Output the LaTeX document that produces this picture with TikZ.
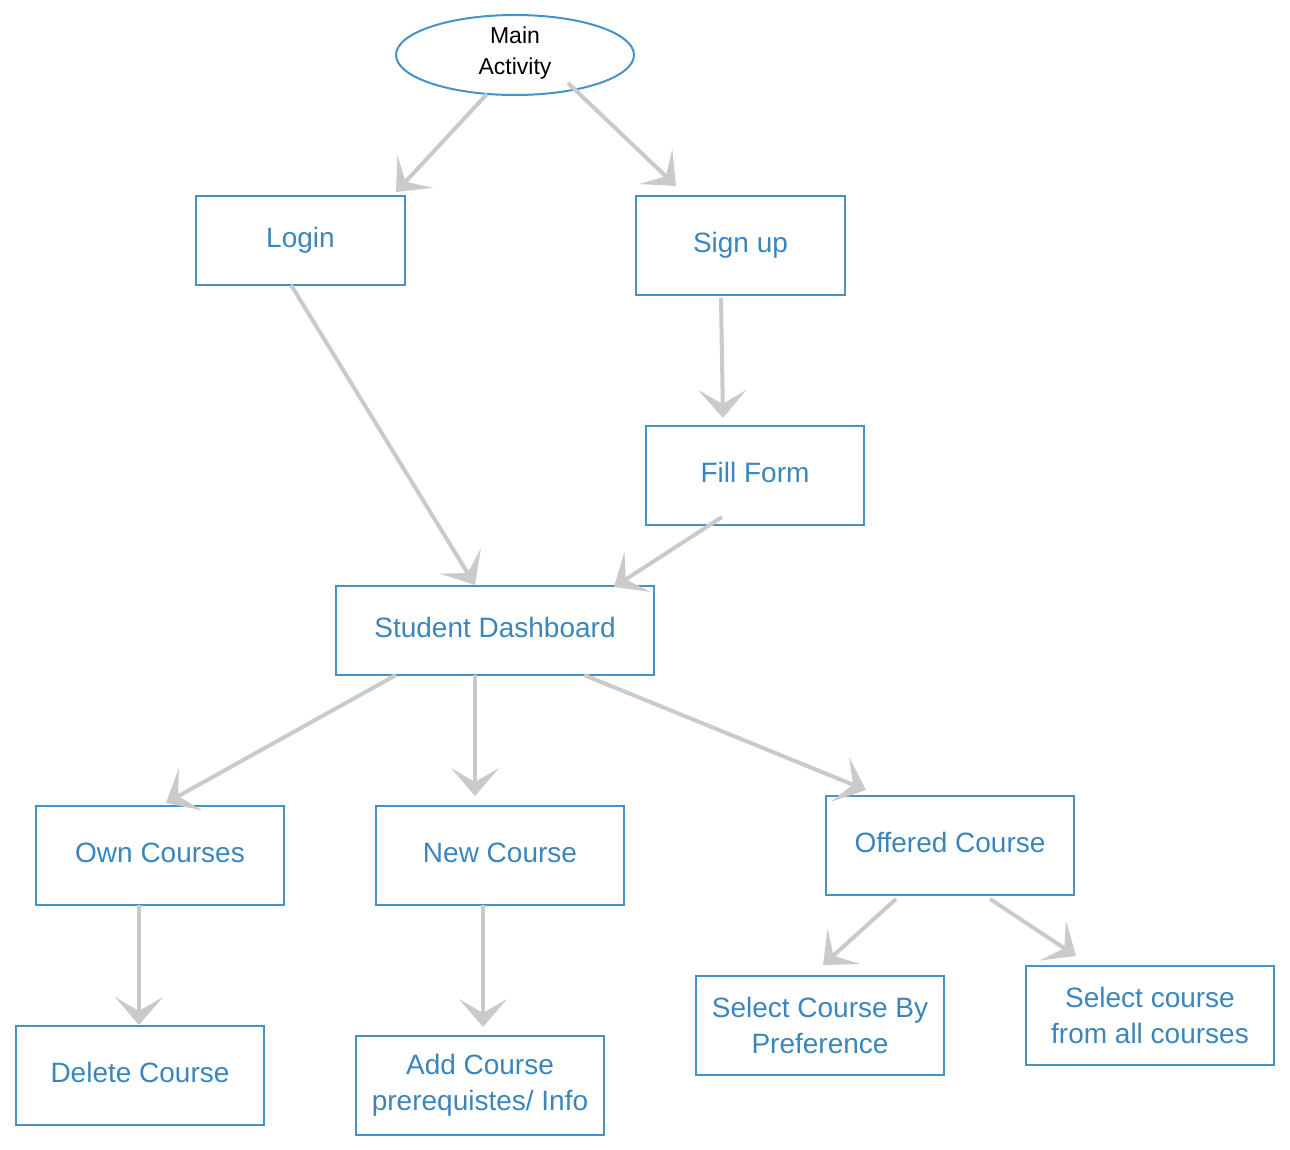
\documentclass[tikz,border=0pt]{standalone}
\usepackage{fontspec}
\setmainfont{Liberation Sans}
\usetikzlibrary{arrows.meta,calc,shapes.geometric}
\definecolor{boxblue}{HTML}{4492C6}
\definecolor{txtblue}{HTML}{3A86BC}
\definecolor{arrgrey}{HTML}{CACACA}
\begin{document}
\begin{tikzpicture}[x=1pt,y=-1pt,
  box/.style={draw=boxblue,line width=2pt,rectangle,inner sep=0pt,align=center,
    text=txtblue,font=\fontsize{28}{36}\selectfont},
  onebox/.style={box,text height=20pt,text depth=6pt},
  conn/.style={draw=arrgrey,line width=4pt,
    -{Stealth[length=28pt,width=48pt,inset=14pt]}}]
\useasboundingbox (0,0) rectangle (1290,1150);
\node[draw=boxblue,line width=2pt,ellipse,minimum width=238pt,minimum height=80pt,
  inner sep=0pt,
  label={[align=center,font=\fontsize{23}{31}\selectfont,yshift=2pt]center:{Main\\Activity}}]
  (main) at (515,55) {};
\node[onebox,minimum width=209pt,minimum height=89pt] (login) at (300.5,240.5) {Login};
\node[onebox,minimum width=209pt,minimum height=99pt] (signup) at (740.5,245.5) {Sign up};
\node[onebox,minimum width=218pt,minimum height=99pt] (fill) at (755,475.5) {Fill Form};
\node[onebox,minimum width=318pt,minimum height=89pt] (dash) at (495,630.5) {Student Dashboard};
\node[onebox,minimum width=248pt,minimum height=99pt] (own) at (160,855.5) {Own Courses};
\node[onebox,minimum width=248pt,minimum height=99pt] (new) at (500,855.5) {New Course};
\node[onebox,minimum width=248pt,minimum height=99pt] (offered) at (950,845.5) {Offered Course};
\node[box,minimum width=248pt,minimum height=99pt] (pref) at (820,1025.5) {Select Course By\\Preference};
\node[box,minimum width=248pt,minimum height=99pt] (all) at (1150,1015.5) {Select course\\from all courses};
\node[onebox,minimum width=248pt,minimum height=99pt] (delete) at (140,1075.5) {Delete Course};
\node[box,minimum width=248pt,minimum height=99pt] (add) at (480,1085.5) {Add Course\\prerequistes/ Info};
\draw[conn] ($(main)+(-28,39)$) -- ($(login)+(95.5,-48.5)$);
\draw[conn] ($(main)+(53,28)$) -- ($(signup)+(-64.5,-59.5)$);
\draw[conn] ($(login)+(-9.5,44.5)$) -- ($(dash)+(-20,-45.5)$);
\draw[conn] ($(signup)+(-19.5,52.5)$) -- ($(fill)+(-32,-57.5)$);
\draw[conn] ($(fill)+(-33,41.5)$) -- ($(dash)+(119,-43.5)$);
\draw[conn] ($(dash)+(-99,44.5)$) -- ($(own)+(6,-52.5)$);
\draw[conn] ($(dash)+(-20,44.5)$) -- ($(new)+(-25,-59.5)$);
\draw[conn] ($(dash)+(89,44.5)$) -- ($(offered)+(-84,-55.5)$);
\draw[conn] ($(own)+(-21,49.5)$) -- ($(delete)+(-1,-50.5)$);
\draw[conn] ($(new)+(-17,49.5)$) -- ($(add)+(3,-58.5)$);
\draw[conn] ($(offered)+(-54,53.5)$) -- ($(pref)+(3,-60.5)$);
\draw[conn] ($(offered)+(40,53.5)$) -- ($(all)+(-74,-59.5)$);
\end{tikzpicture}
\end{document}
